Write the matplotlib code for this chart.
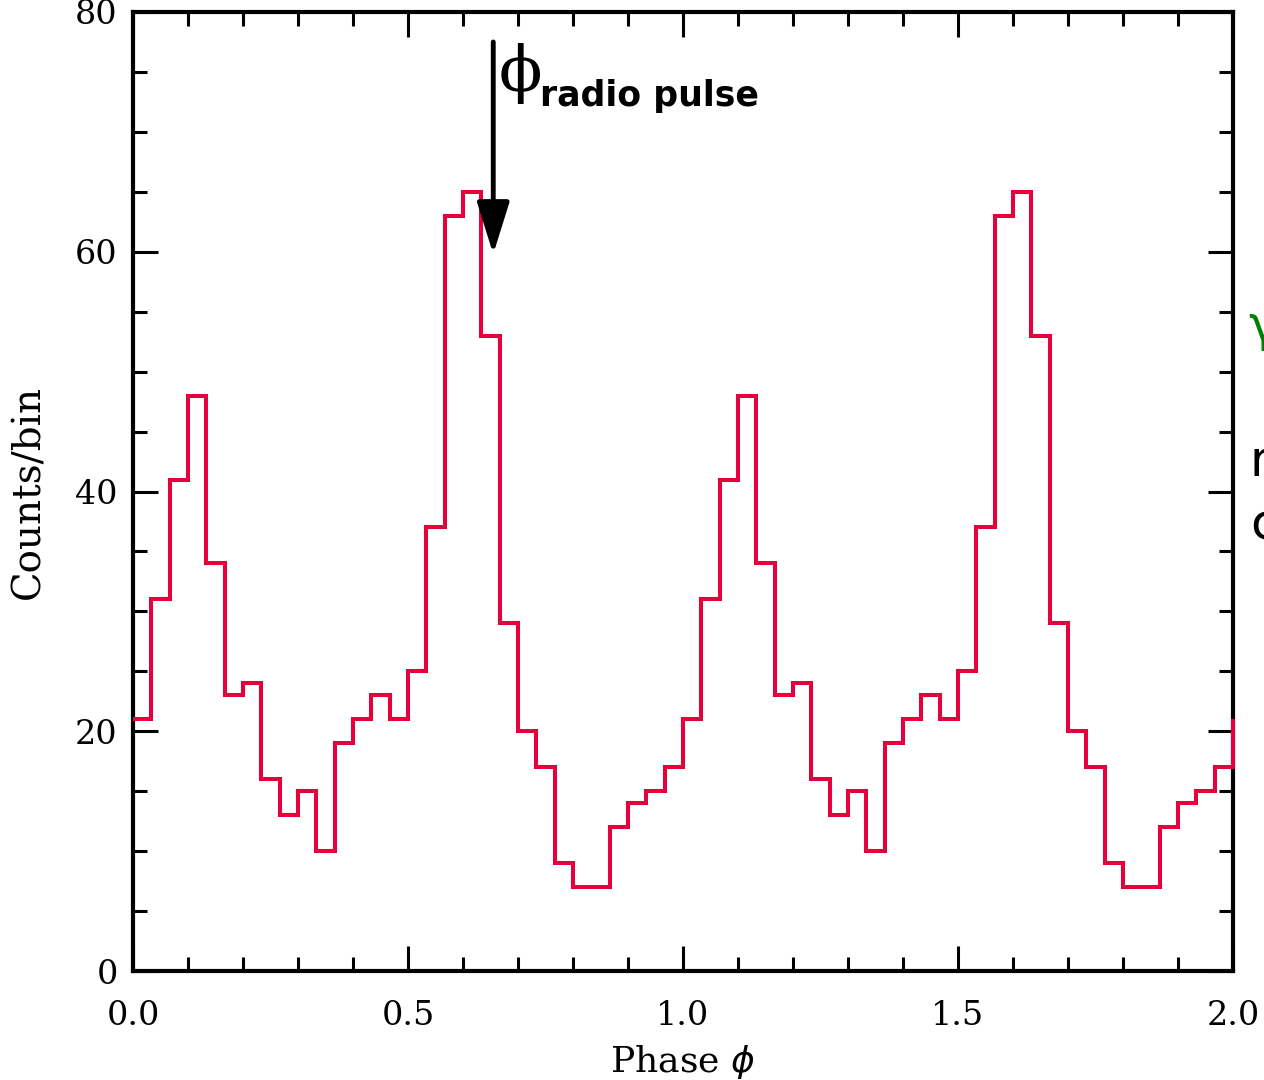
import numpy as np
import matplotlib.pyplot as plt
from matplotlib.ticker import MultipleLocator

# one rotation of the folded light curve, 30 phase bins
period_counts = [21, 31, 41, 48, 34, 23, 24, 16, 13, 15, 10, 19, 21, 23, 21,
                 25, 37, 63, 65, 53, 29, 20, 17, 9, 7, 7, 12, 14, 15, 17]
nbins = len(period_counts)
# shown twice, plus the wrap-around value at phase 2.0
counts = period_counts + period_counts + [period_counts[0]]
edges = np.append(np.arange(2 * nbins + 1) / nbins, 2.0)  # last bin has zero width

radio_phase = 0.655
arrow_top, arrow_tip = 77.5, 59.8

red = "#e8003d"
serif = "DejaVu Serif"

fig = plt.figure(figsize=(12.64, 10.8), dpi=100)
ax = fig.add_axes([133/1264, 1-971/1080, 1100/1264, 959/1080])

ax.stairs(counts, edges, color=red, lw=2.9, baseline=None, zorder=5, clip_on=False)

ax.set_xlim(0, 2)
ax.set_ylim(0, 80)
ax.xaxis.set_minor_locator(MultipleLocator(0.1))
ax.yaxis.set_minor_locator(MultipleLocator(5))
ax.set_xticks([0, 0.5, 1, 1.5, 2], ["0.0", "0.5", "1.0", "1.5", "2.0"])
ax.set_yticks([0, 20, 40, 60, 80], ["0", "20", "40", "60", "80"])
ax.tick_params(which="both", direction="in", top=True, right=True, width=2.2, color="k")
ax.tick_params(which="major", length=18)
ax.tick_params(which="minor", length=10)
ax.tick_params(axis="x", which="major", pad=21)
ax.tick_params(axis="y", which="major", pad=11)
for lab in ax.get_xticklabels() + ax.get_yticklabels():
    lab.set_fontfamily(serif); lab.set_fontsize(24)
for s in ax.spines.values():
    s.set_linewidth(3); s.set_zorder(4)

ax.set_xlabel("Phase $\\phi$", fontfamily=serif, fontsize=26, labelpad=8)
ax.set_ylabel("Counts/bin", fontfamily=serif, fontsize=28, labelpad=20)

# radio pulse arrow
ax.annotate("", xy=(radio_phase, arrow_tip), xytext=(radio_phase, arrow_top),
            arrowprops=dict(arrowstyle="-|>,head_length=3.2,head_width=1.0",
                            color="k", lw=3.5, shrinkA=0, shrinkB=0), zorder=6)
ax.text(0.665, 74.9, "\u03d5", fontfamily=serif, fontsize=46, va="center", ha="left")
ax.text(0.740, 73.0, "radio pulse", fontfamily="DejaVu Sans", fontweight="bold",
        fontsize=25, va="center", ha="left")

# slide text cut off at the right edge, as in the original slide
fig.text(1248/1264, 1-327/1080, "\u03b3", color="#008000", fontsize=36, va="center", ha="left")
fig.text(1250/1264, 1-462/1080, "r", color="k", fontsize=36, va="center", ha="left")
fig.text(1250/1264, 1-526/1080, "c", color="k", fontsize=36, va="center", ha="left")

fig.savefig("out.png", dpi=100)
